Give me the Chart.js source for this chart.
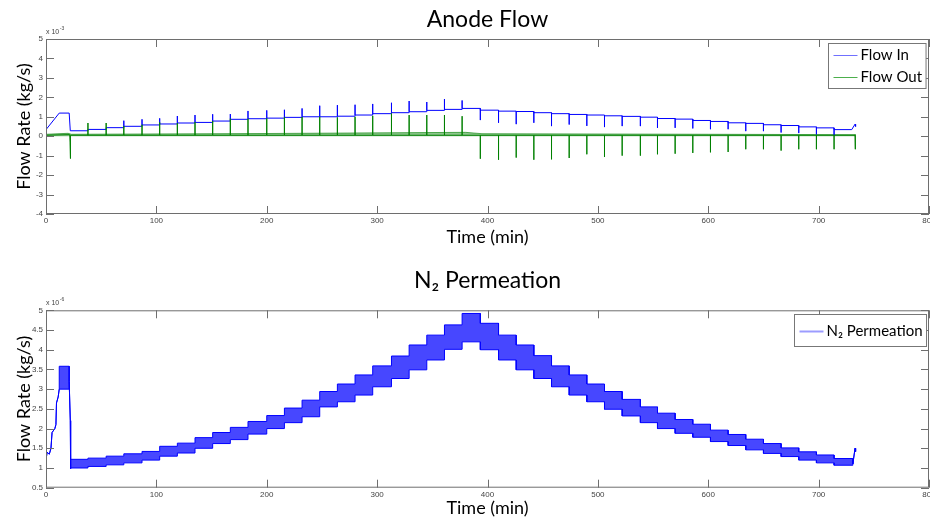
<!DOCTYPE html>
<html lang="en">
<head>
<meta charset="utf-8">
<title>Anode Flow / N2 Permeation</title>
<script src="https://cdn.jsdelivr.net/npm/chart.js@4.4.1/dist/chart.umd.min.js"></script>
<style>
  body { margin: 0; background: #ffffff; }
  #lienzo { position: relative; width: 930px; height: 519px; }
  #lienzo canvas { position: absolute; left: 0; }
</style>
</head>
<body>
<div id="lienzo">
  <canvas id="anode_flow" width="930" height="259" style="top:0px"></canvas>
  <canvas id="n2_permeation" width="930" height="260" style="top:259px"></canvas>
</div>
<script>
// ===== Datos =====
// Tiempos (min) de cada purga: ahí cambia el escalón y salen los picos
const tiempos_purga = [38, 54.5, 70.5, 87, 103, 119, 135, 151, 167, 183, 200, 216, 232, 248, 264,
  280, 296, 313, 329, 345, 361, 377, 393.5, 410, 426, 442, 458, 474, 490, 506, 522, 538.5, 554,
  570, 586, 602, 618, 634, 650, 666, 682, 698, 714];

// Ticks de los ejes
const ticks_tiempo = [0, 100, 200, 300, 400, 500, 600, 700, 800];
const ticks_flujo = [-4, -3, -2, -1, 0, 1, 2, 3, 4, 5];
const ticks_n2 = [0.5, 1, 1.5, 2, 2.5, 3, 3.5, 4, 4.5, 5];

// Flow In (x10^-3 kg/s)
const flow_in_inicio_t = [0, 12, 21, 22];
const flow_in_inicio_v = [0.34, 1.19, 1.19, 0.28];
const flow_in_nivel = [0.35, 0.44, 0.51, 0.58, 0.63, 0.68, 0.71, 0.78, 0.87, 0.9, 0.93, 0.97, 1.0,
  1.0, 1.03, 1.09, 1.16, 1.21, 1.26, 1.33, 1.38, 1.43, 1.34, 1.29, 1.27, 1.21, 1.16, 1.12, 1.09,
  1.05, 1.02, 0.98, 0.91, 0.88, 0.81, 0.76, 0.69, 0.66, 0.59, 0.55, 0.48, 0.43, 0.34];
const flow_in_pico = [0.35, 0.44, 0.8, 0.87, 0.92, 1.04, 1.09, 1.13, 1.14, 1.3, 1.33, 1.36, 1.43,
  1.57, 1.6, 1.62, 1.66, 1.72, 1.81, 1.76, 1.91, 1.84, 0.83, 0.69, 0.62, 0.69, 0.52, 0.6, 0.53,
  0.47, 0.52, 0.52, 0.43, 0.43, 0.4, 0.36, 0.36, 0.26, 0.26, 0.19, 0.16, 0.09, 0.03];
const flow_in_final_t = [730, 733, 733.5];
const flow_in_final_v = [0.34, 0.62, 0.5];

// Flow Out (x10^-3 kg/s)
const flow_out_inicio_t = [0, 21.5, 21.8, 22, 22.3];
const flow_out_inicio_v = [0.05, 0.08, -0.3, -1.15, 0.05];
const flow_out_base = 0.05;
const flow_out_pico = [0.68, 0.68, 0.52, 0.59, 0.71, 0.68, 0.72, 0.78, 0.9, 0.9, 0.92, 0.97, 0.99,
  1.0, 0.97, 1.0, 1.05, 1.17, 1.09, 1.09, 1.09, 1.03, -1.16, -1.21, -1.1, -1.21, -1.19, -1.12,
  -0.93, -1.07, -1.0, -1.0, -0.93, -0.9, -0.86, -0.83, -0.81, -0.67, -0.67, -0.74, -0.67, -0.67, -0.67];
const flow_out_final_t = [733, 733, 733.5];
const flow_out_final_v = [0.05, -0.67, 0.1];
// banda de oscilación de Flow Out (de 0 hasta este borde)
const banda_out_t = [0, 20, 23, 200, 380, 395, 600, 733];
const banda_out_sup = [0.1, 0.15, 0.1, 0.14, 0.2, 0.13, 0.1, 0.08];

// N2 Permeation (x10^-6 kg/s)
const n2_inicio_t = [0, 1, 3, 4.5, 5.5, 8, 9, 9.5, 11, 12];
const n2_inicio_v = [1.2, 1.4, 1.35, 1.5, 1.9, 2.0, 2.1, 2.65, 2.8, 3.0];
const n2_arranque_t = [12, 21];
const n2_arranque_sup = [3.58, 3.58];
const n2_arranque_inf = [3.0, 3.0];
const n2_caida_t = [21, 22, 22.3];
const n2_caida_v = [3.2, 2.2, 0.98];
// borde superior e inferior de la oscilación en cada tramo entre purgas
const n2_sup = [1.22, 1.25, 1.3, 1.36, 1.42, 1.55, 1.63, 1.77, 1.9, 2.03, 2.18, 2.33, 2.52, 2.72,
  2.94, 3.13, 3.36, 3.59, 3.84, 4.12, 4.37, 4.63, 4.92, 4.67, 4.37, 4.12, 3.85, 3.59, 3.36, 3.13,
  2.94, 2.74, 2.55, 2.39, 2.23, 2.11, 1.96, 1.85, 1.73, 1.62, 1.51, 1.41, 1.33, 1.24];
const n2_inf = [1.0, 1.04, 1.08, 1.13, 1.2, 1.3, 1.38, 1.5, 1.62, 1.72, 1.86, 2.0, 2.15, 2.3,
  2.55, 2.68, 2.85, 3.06, 3.27, 3.49, 3.74, 4.01, 4.2, 4.0, 3.74, 3.49, 3.27, 3.06, 2.85, 2.68,
  2.49, 2.32, 2.15, 2.0, 1.88, 1.78, 1.67, 1.57, 1.46, 1.37, 1.29, 1.2, 1.13, 1.07];
const n2_final_t = [731, 733, 733.5];
const n2_final_v = [1.1, 1.5, 1.42];

// ===== Puntos para Chart.js =====
const a_puntos = (ts, vs) => ts.map((t, i) => ({x: t, y: vs[i]}));

const puntos_flow_in = a_puntos(flow_in_inicio_t, flow_in_inicio_v);
let nivel = flow_in_inicio_v[flow_in_inicio_v.length - 1];
tiempos_purga.forEach((t, i) => {
  puntos_flow_in.push({x: t, y: nivel}, {x: t, y: flow_in_pico[i]}, {x: t, y: flow_in_nivel[i]});
  nivel = flow_in_nivel[i];
});
puntos_flow_in.push(...a_puntos(flow_in_final_t, flow_in_final_v));

const puntos_flow_out = a_puntos(flow_out_inicio_t, flow_out_inicio_v);
tiempos_purga.forEach((t, i) => {
  puntos_flow_out.push({x: t, y: flow_out_base}, {x: t, y: flow_out_pico[i]}, {x: t, y: flow_out_base});
});
puntos_flow_out.push(...a_puntos(flow_out_final_t, flow_out_final_v));

const puntos_banda_out = a_puntos(banda_out_t, banda_out_sup);

const limites_n2 = [n2_caida_t[n2_caida_t.length - 1], ...tiempos_purga, n2_final_t[0]];
function borde_n2(arranque, tramos) {
  const p = a_puntos(n2_inicio_t, n2_inicio_v);
  p.push(...a_puntos(n2_arranque_t, arranque));
  p.push(...a_puntos(n2_caida_t, n2_caida_v));
  tramos.forEach((v, i) => p.push({x: limites_n2[i], y: v}, {x: limites_n2[i + 1], y: v}));
  p.push(...a_puntos(n2_final_t, n2_final_v));
  return p;
}

// ===== Marco estilo MATLAB: caja, ticks hacia dentro, exponente y leyenda =====
const marco_matlab = {
  id: 'marco_matlab',
  afterDatasetsDraw(chart, args, opts) {
    const {ctx, chartArea: a, scales: {x, y}} = chart;
    ctx.save();
    ctx.strokeStyle = '#6e6e6e';
    ctx.lineWidth = 1;
    ctx.strokeRect(a.left + 0.5, a.top + 0.5, a.right - a.left - 1, a.bottom - a.top - 1);
    ctx.beginPath();
    x.ticks.forEach(t => {
      const px = Math.round(x.getPixelForValue(t.value)) + 0.5;
      ctx.moveTo(px, a.bottom); ctx.lineTo(px, a.bottom - 8);
      ctx.moveTo(px, a.top); ctx.lineTo(px, a.top + 8);
    });
    y.ticks.forEach(t => {
      const py = Math.round(y.getPixelForValue(t.value)) + 0.5;
      ctx.moveTo(a.left, py); ctx.lineTo(a.left + 8, py);
      ctx.moveTo(a.right, py); ctx.lineTo(a.right - 8, py);
    });
    ctx.stroke();

    // "x 10^-n" arriba a la izquierda
    ctx.fillStyle = '#444';
    ctx.textBaseline = 'alphabetic';
    ctx.textAlign = 'left';
    ctx.font = '7px "Liberation Sans"';
    ctx.fillText('x 10', a.left, a.top - 5);
    const ancho = ctx.measureText('x 10').width;
    ctx.font = '5px "Liberation Sans"';
    ctx.fillText(opts.exponente, a.left + ancho + 0.5, a.top - 9);

    // leyenda
    const entradas = chart.data.datasets.filter(d => d.label);
    ctx.font = '15px Lato';
    const texto_max = Math.max(...entradas.map(d => ctx.measureText(d.label).width));
    const w = 5 + 24 + 3 + texto_max + 4;
    const h = entradas.length * opts.fila + 1;
    const lx = Math.round(a.right - 3 - w) + 0.5;
    const ly = Math.round(a.top + opts.dy) + 0.5;
    ctx.fillStyle = '#fff';
    ctx.fillRect(lx, ly, w, h);
    ctx.strokeStyle = '#777';
    ctx.strokeRect(lx, ly, w, h);
    entradas.forEach((d, i) => {
      const cy = Math.round(ly + 0.5 + opts.fila * (i + 0.5)) + 0.5;
      ctx.strokeStyle = d.colorLeyenda || d.borderColor;
      ctx.lineWidth = d.anchoLeyenda || 1;
      ctx.beginPath();
      ctx.moveTo(lx + 5, cy); ctx.lineTo(lx + 29, cy);
      ctx.stroke();
      ctx.fillStyle = '#000';
      ctx.textBaseline = 'middle';
      ctx.fillText(d.label, lx + 32, cy);
    });
    ctx.restore();
  }
};

Chart.defaults.font.family = '"Liberation Sans", Arial, sans-serif';

function eje_tiempo(alto, pad_titulo) {
  return {
    type: 'linear', min: 0, max: 800,
    afterBuildTicks: s => { s.ticks = ticks_tiempo.map(v => ({value: v})); },
    ticks: { font: {size: 8}, color: '#444', padding: 2, maxRotation: 0, autoSkip: false,
             callback: v => String(v) },
    grid: { display: false, drawTicks: false },
    border: { display: false },
    title: { display: true, text: 'Time (min)', color: '#000',
             font: {family: 'Lato', size: 18}, padding: {top: 0, bottom: pad_titulo} },
    afterFit: s => { s.height = alto; s.paddingLeft = 0; s.paddingRight = 0; }
  };
}

function eje_flujo(min, max, marcas) {
  return {
    type: 'linear', min: min, max: max,
    afterBuildTicks: s => { s.ticks = marcas.map(v => ({value: v})); },
    ticks: { font: {size: 8}, color: '#444', padding: 3, callback: v => String(v) },
    grid: { display: false, drawTicks: false },
    border: { display: false },
    title: { display: true, text: 'Flow Rate (kg/s)', color: '#000',
             font: {family: 'Lato', size: 18}, padding: {top: 13, bottom: 0} },
    afterFit: s => { s.width = 46; s.paddingTop = 0; s.paddingBottom = 0; }
  };
}

const linea = { pointRadius: 0, borderWidth: 1, tension: 0, fill: false };

// ===== Anode Flow =====
new Chart(document.getElementById('anode_flow'), {
  type: 'line',
  data: {
    datasets: [
      { ...linea, label: 'Flow In', data: puntos_flow_in, borderColor: '#0000ff',
        colorLeyenda: '#7070ff', order: 1 },
      { ...linea, label: 'Flow Out', data: puntos_flow_out, borderColor: '#008000',
        colorLeyenda: '#4caf4c', order: 0 },
      { ...linea, label: '', data: puntos_banda_out, borderColor: 'rgba(0,128,0,0.6)',
        backgroundColor: 'rgba(0,128,0,0.45)', fill: {value: 0}, order: 2 }
    ]
  },
  options: {
    responsive: false,
    animation: false,
    devicePixelRatio: 1,
    events: [],
    layout: { padding: {left: 0, right: 1, top: 0, bottom: 0} },
    plugins: {
      legend: { display: false },
      tooltip: { enabled: false },
      title: { display: true, text: 'Anode Flow', fullSize: false, color: '#000',
               font: {family: 'Lato', size: 23, weight: 'normal'}, padding: {top: 6, bottom: 5.4} },
      marco_matlab: { exponente: '-3', fila: 22, dy: 4 }
    },
    scales: {
      x: eje_tiempo(45, 11),
      y: eje_flujo(-4, 5, ticks_flujo)
    }
  },
  plugins: [marco_matlab]
});

// ===== N2 Permeation =====
new Chart(document.getElementById('n2_permeation'), {
  type: 'line',
  data: {
    datasets: [
      { ...linea, label: 'N\u2082 Permeation', data: borde_n2(n2_arranque_sup, n2_sup),
        borderColor: '#0000ff', backgroundColor: 'rgba(0,0,255,0.72)', fill: '+1',
        colorLeyenda: '#9c9cff', anchoLeyenda: 2 },
      { ...linea, label: '', data: borde_n2(n2_arranque_inf, n2_inf), borderColor: '#0000ff' }
    ]
  },
  options: {
    responsive: false,
    animation: false,
    devicePixelRatio: 1,
    events: [],
    layout: { padding: {left: 0, right: 1, top: 0, bottom: 0} },
    plugins: {
      legend: { display: false },
      tooltip: { enabled: false },
      title: { display: true, text: 'N\u2082 Permeation', fullSize: false, color: '#000',
               font: {family: 'Lato', size: 23, weight: 'normal'}, padding: {top: 8, bottom: 15.7} },
      marco_matlab: { exponente: '-6', fila: 31, dy: 3.7 }
    },
    scales: {
      x: eje_tiempo(31.3, 0),
      y: eje_flujo(0.5, 5, ticks_n2)
    }
  },
  plugins: [marco_matlab]
});
</script>
</body>
</html>
